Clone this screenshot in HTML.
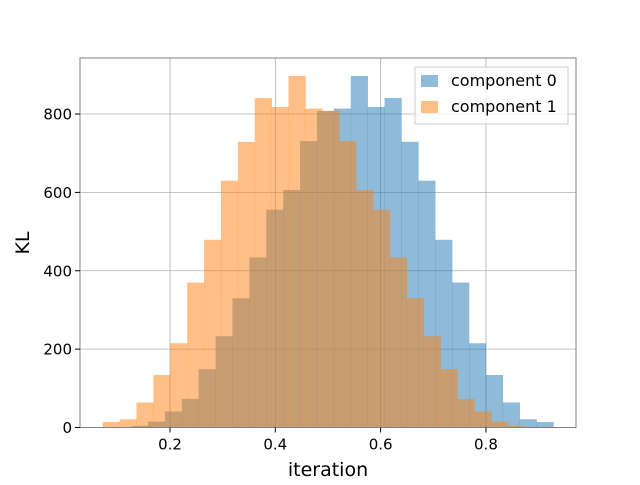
<!DOCTYPE html>
<html><head><meta charset="utf-8"><style>
body{margin:0;background:#fff;}
svg text{font-family:"DejaVu Sans","Liberation Sans",sans-serif;fill:#000;}
</style></head><body>
<svg id="chart" width="640" height="480" xmlns="http://www.w3.org/2000/svg">
<g id="grid"></g>
<g id="bars"></g>
<rect x="80" y="58" width="496" height="369.5" fill="none" stroke="#808080" stroke-width="1"/>
<g id="ticks"></g>
<text x="328" y="476" font-size="19" text-anchor="middle">iteration</text>
<text x="29" y="243" font-size="19" text-anchor="middle" transform="rotate(-90 29 243)">KL</text>
<g>
<rect x="415" y="67" width="153" height="57" fill="#fff" fill-opacity="0.8" stroke="#ccc"/>
<rect x="421" y="75" width="17" height="12" fill="#1f77b4" fill-opacity="0.5"/>
<text x="451" y="86" font-size="16">component 0</text>
<rect x="421" y="101" width="17" height="12" fill="#ff7f0e" fill-opacity="0.5"/>
<text x="451" y="112" font-size="16">component 1</text>
</g>
</svg>
<script>
const binStart0 = 0.1262;
const binStart1 = 0.0722;
const binWidth = 0.03208;
const counts0 = [4,15,41,73,149,233,330,434,556,606,731,808,814,897,818,841,729,630,479,370,215,134,64,21,14];
const counts1 = [14,21,64,134,215,370,479,630,729,841,818,897,814,808,731,606,556,434,330,233,149,73,41,15,4];
const xTicks = [0.2,0.4,0.6,0.8];
const yTicks = [0,200,400,600,800];
const xMin=0.0291,xMax=0.971,yMax=943;
const L=80,R=576,T=58,B=427.5;
const NS="http://www.w3.org/2000/svg";
function xs(v){return L+(v-xMin)/(xMax-xMin)*(R-L);}
function ys(v){return B-v/yMax*(B-T);}
function mk(tag,attrs,parent){const e=document.createElementNS(NS,tag);for(const k in attrs)e.setAttribute(k,attrs[k]);parent.appendChild(e);return e;}
const grid=document.getElementById('grid'),bars=document.getElementById('bars'),ticks=document.getElementById('ticks');
xTicks.forEach(t=>{
  const g=mk('line',{x1:xs(t),x2:xs(t),y1:T,y2:B,stroke:'#b0b0b0','stroke-width':0.8},grid);
  
  
  const tk=mk('line',{x1:xs(t),x2:xs(t),y1:B,y2:B+5,stroke:'#000'},ticks);
  
  
  const tx=mk('text',{x:xs(t),y:B+22,'font-size':15,'text-anchor':'middle'},ticks);
  tx.textContent=t.toFixed(1);
  
  
});
yTicks.forEach(t=>{
  if(t>0){const g=mk('line',{x1:L,x2:R,y1:ys(t),y2:ys(t),stroke:'#b0b0b0','stroke-width':0.8},grid);
  
  }
  const tk=mk('line',{x1:L-5,x2:L,y1:ys(t),y2:ys(t),stroke:'#000'},ticks);
  
  
  const tx=mk('text',{x:L-8,y:ys(t)+5.5,'font-size':15,'text-anchor':'end'},ticks);
  tx.textContent=String(t);
  
  
});
function drawSeries(counts,start,color,name){
  counts.forEach((c,i)=>{
    const x0=xs(start+i*binWidth),x1=xs(start+(i+1)*binWidth);
    const r=mk('rect',{x:x0,y:ys(c),width:x1-x0+0.3,height:B-ys(c),fill:color,'fill-opacity':0.5},bars);
    
    
  });
}
drawSeries(counts0,binStart0,'#1f77b4','component-0');
drawSeries(counts1,binStart1,'#ff7f0e','component-1');
</script>
</body></html>
